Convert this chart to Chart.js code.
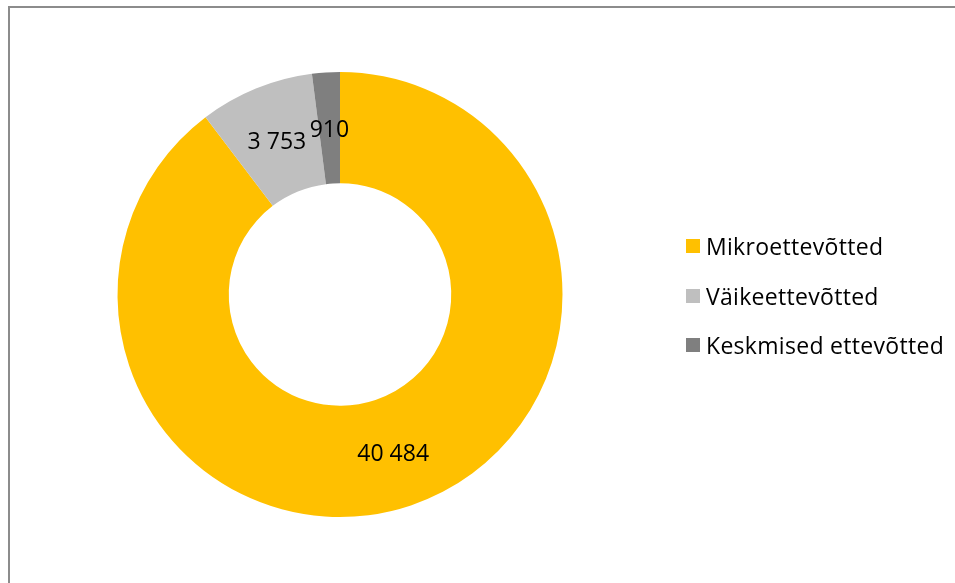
<!DOCTYPE html>
<html>
<head>
<meta charset="utf-8">
<script src="https://cdn.jsdelivr.net/npm/chart.js@4/dist/chart.umd.min.js"></script>
<style>
html, body { margin: 0; padding: 0; background: #fff; }
#wrap { position: relative; width: 955px; height: 583px; overflow: hidden; font-family: "Open Sans", sans-serif; }
#frame { position: absolute; left: 8px; top: 6px; width: 960px; height: 575px; border: 2px solid #8c8c8c; border-right: none; border-bottom-color: #e6e6e6; }
#graafik { position: absolute; left: 0; top: 0; }
#legend { position: absolute; left: 686px; top: 231px; }
.row { height: 49.5px; display: flex; align-items: flex-start; font-size: 23px; letter-spacing: 0.3px; color: #000; line-height: 30px; }
.box { width: 14px; height: 14px; margin: 8px 6px 0 0; }
</style>
</head>
<body>
<div id="wrap">
  <div id="frame"></div>
  <canvas id="graafik" width="955" height="583"></canvas>
  <div id="legend"></div>
</div>
<script>

// ANDMED

const kategooriad = ["Mikroettevõtted", "Väikeettevõtted", "Keskmised ettevõtted"];
const ettevotteid = [40484, 3753, 910];
const varvid = ["#FFC000", "#BFBFBF", "#7F7F7F"];


// ARVU VORMINDAMINE (tühik tuhandete vahel)

function vorminda(n){
  return String(n).replace(/\B(?=(\d{3})+(?!\d))/g, " ");
}


// SILDID SEKTORITE PEAL

const sildid = {
  id: "sildid",
  afterDatasetsDraw(chart){
    const c = chart.ctx;
    const meta = chart.getDatasetMeta(0);
    c.save();
    c.font = "23px 'Open Sans', sans-serif";
    c.fillStyle = "#000";
    c.textAlign = "center";
    c.textBaseline = "middle";
    meta.data.forEach(function(arc, i){
      const p = arc.tooltipPosition();
      c.fillText(vorminda(ettevotteid[i]), p.x, p.y + 2);
    });
    c.restore();
  }
};


// DIAGRAMM

const ctx = document.getElementById("graafik");

new Chart(ctx, {
  type: "doughnut",
  data: {
    labels: kategooriad,
    datasets: [{
      data: ettevotteid,
      backgroundColor: varvid,
      borderWidth: 0
    }]
  },
  options: {
    responsive: false,
    animation: false,
    cutout: "50%",
    layout: {
      padding: { left: 117, right: 392, top: 72, bottom: 66 }
    },
    plugins: {
      legend: { display: false },
      tooltip: { enabled: false }
    }
  },
  plugins: [sildid]
});


// LEGEND

const legend = document.getElementById("legend");
kategooriad.forEach(function(nimi, i){
  legend.innerHTML +=
    '<div class="row"><div class="box" style="background:' + varvid[i] + '"></div>' + nimi + '</div>';
});

</script>
</body>
</html>
